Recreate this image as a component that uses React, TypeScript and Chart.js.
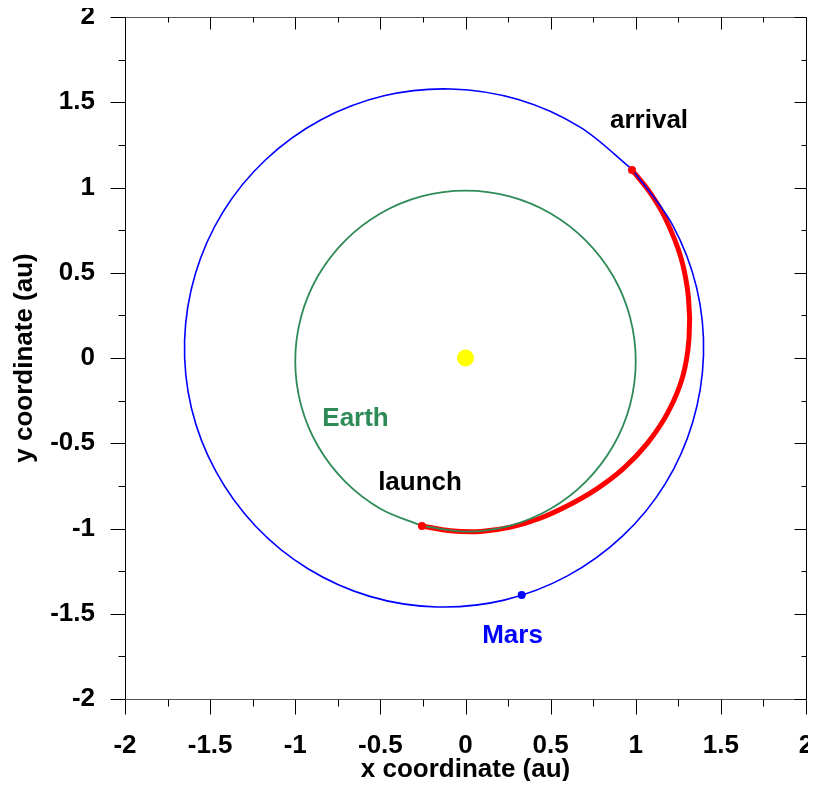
import React, { useEffect, useRef } from "react";
import { Chart, registerables } from "chart.js";

Chart.register(...registerables);

// ---- axis ticks ----
const majorTicks = [-2, -1.5, -1, -0.5, 0, 0.5, 1, 1.5, 2];
const minorTicks = [-1.75, -1.25, -0.75, -0.25, 0.25, 0.75, 1.25, 1.75];

// ---- Earth orbit (au), starting and ending at the launch point ----
const earthX = [-0.259, 0, 0.259, 0.5, 0.707, 0.866, 0.966, 1.0, 0.966, 0.866, 0.707, 0.5, 0.259, 0, -0.259, -0.5, -0.707, -0.866, -0.966, -1.0, -0.966, -0.866, -0.707, -0.5, -0.259];
const earthY = [-0.984, -1.018, -0.984, -0.884, -0.725, -0.518, -0.277, -0.018, 0.241, 0.482, 0.689, 0.848, 0.948, 0.982, 0.948, 0.848, 0.689, 0.482, 0.241, -0.018, -0.277, -0.518, -0.725, -0.884, -0.984];

// ---- Mars orbit (au), starting and ending at the arrival point ----
const marsX = [0.982, 0.673, 0.31, -0.083, -0.479, -0.851, -1.174, -1.425, -1.587, -1.65, -1.61, -1.467, -1.234, -0.925, -0.562, -0.169, 0.227, 0.599, 0.922, 1.173, 1.335, 1.398, 1.358, 1.215, 0.982];
const marsY = [1.103, 1.354, 1.516, 1.578, 1.538, 1.396, 1.163, 0.856, 0.493, 0.101, -0.293, -0.664, -0.985, -1.236, -1.398, -1.46, -1.42, -1.278, -1.045, -0.738, -0.375, 0.017, 0.411, 0.782, 1.103];

// ---- transfer trajectory (au) ----
const transferX = [-0.256, -0.089, 0.089, 0.266, 0.438, 0.605, 0.769, 0.927, 1.069, 1.189, 1.275, 1.313, 1.31, 1.265, 1.173, 1.081, 0.978];
const transferY = [-0.985, -1.013, -1.017, -0.992, -0.94, -0.864, -0.769, -0.649, -0.499, -0.319, -0.112, 0.115, 0.351, 0.59, 0.821, 0.974, 1.103];

// ---- single points ----
const sunPos = [0, 0];
const launchPos = [-0.256, -0.985];
const arrivalPos = [0.978, 1.103];
const marsPos = [0.33, -1.39];

// ---- annotations ----
const labelTexts = ["arrival", "launch", "Earth", "Mars"];
const labelX = [1.078, -0.267, -0.646, 0.276];
const labelY = [1.349, -0.774, -0.399, -1.672];

const COLORS = {
  earth: "#2e8b57",
  mars: "#0000ff",
  transfer: "#ff0000",
  sun: "#ffff00",
  text: "#000000",
};
const labelColors = [COLORS.text, COLORS.text, COLORS.earth, COLORS.mars];

const FONT_FAMILY = '"Liberation Sans", Arial, Helvetica, sans-serif';

const toPoints = (xs: number[], ys: number[]) => xs.map((x, i) => ({ x, y: ys[i] }));

const framePlugin = {
  id: "frame",
  afterDatasetsDraw(chart: any) {
    const { ctx, chartArea, scales } = chart;
    const { left, right, top, bottom } = chartArea;
    const xs = scales.x;
    const ys = scales.y;
    ctx.save();
    ctx.lineWidth = 1;
    ctx.strokeStyle = "#000";
    const L = Math.round(left) + 0.5;
    const R = Math.round(right) + 0.5;
    const T = Math.round(top) + 0.5;
    const B = Math.round(bottom) + 0.5;
    ctx.beginPath();
    ctx.moveTo(L, T);
    ctx.lineTo(L, B);
    ctx.moveTo(R, T);
    ctx.lineTo(R, B);
    ctx.stroke();
    ctx.strokeStyle = "#555";
    ctx.beginPath();
    ctx.moveTo(L, T);
    ctx.lineTo(R, T);
    ctx.moveTo(L, B);
    ctx.lineTo(R, B);
    ctx.stroke();

    ctx.strokeStyle = "#000";
    const drawTicks = (vals: number[], outLen: number, inLen: number) => {
      ctx.beginPath();
      vals.forEach((v) => {
        const px = Math.round(xs.getPixelForValue(v)) + 0.5;
        const py = Math.round(ys.getPixelForValue(v)) + 0.5;
        ctx.moveTo(px, B);
        ctx.lineTo(px, B + outLen);
        ctx.moveTo(px, T);
        ctx.lineTo(px, T + inLen);
        ctx.moveTo(L, py);
        ctx.lineTo(L - outLen, py);
        ctx.moveTo(R, py);
        ctx.lineTo(R - inLen, py);
      });
      ctx.stroke();
    };
    drawTicks(majorTicks, 15, 12);
    drawTicks(minorTicks, 7, 5);

    ctx.font = `bold 26px ${FONT_FAMILY}`;
    ctx.textAlign = "center";
    ctx.textBaseline = "alphabetic";
    labelTexts.forEach((t, i) => {
      ctx.fillStyle = labelColors[i];
      ctx.fillText(t, xs.getPixelForValue(labelX[i]), ys.getPixelForValue(labelY[i]));
    });
    ctx.restore();
  },
};

const noPadding = () => ({ left: 0, top: 0, right: 0, bottom: 0 });
const zeroPadding = (scale: any) => {
  scale.paddingLeft = 0;
  scale.paddingRight = 0;
  scale.paddingTop = 0;
  scale.paddingBottom = 0;
  scale.getPadding = noPadding;
};

export default function App() {
  const canvasRef = useRef<HTMLCanvasElement | null>(null);

  useEffect(() => {
    const canvas = canvasRef.current;
    if (!canvas) return;
    const tickFont = { family: FONT_FAMILY, size: 26, weight: "bold" as const };
    const titleFont = { family: FONT_FAMILY, size: 26, weight: "bold" as const };
    const chart = new Chart(canvas, {
      type: "scatter",
      data: {
        datasets: [
          {
            label: "Sun",
            data: [{ x: sunPos[0], y: sunPos[1] }],
            pointRadius: 8.5,
            backgroundColor: COLORS.sun,
            borderWidth: 0,
            showLine: false,
          },
          {
            label: "endpoints",
            data: [
              { x: launchPos[0], y: launchPos[1] },
              { x: arrivalPos[0], y: arrivalPos[1] },
            ],
            pointRadius: 4,
            backgroundColor: COLORS.transfer,
            borderWidth: 0,
            showLine: false,
          },
          {
            label: "Mars position",
            data: [{ x: marsPos[0], y: marsPos[1] }],
            pointRadius: 4,
            backgroundColor: COLORS.mars,
            borderWidth: 0,
            showLine: false,
          },
          {
            label: "Mars orbit",
            data: toPoints(marsX, marsY),
            showLine: true,
            pointRadius: 0,
            borderColor: COLORS.mars,
            borderWidth: 1.6,
            tension: 0.34,
            fill: false,
          },
          {
            label: "Earth orbit",
            data: toPoints(earthX, earthY),
            showLine: true,
            pointRadius: 0,
            borderColor: COLORS.earth,
            borderWidth: 1.8,
            tension: 0.34,
            fill: false,
          },
          {
            label: "Transfer",
            data: toPoints(transferX, transferY),
            showLine: true,
            pointRadius: 0,
            borderColor: COLORS.transfer,
            borderWidth: 5,
            tension: 0.35,
            fill: false,
          },
        ],
      },
      options: {
        animation: false,
        responsive: false,
        events: [],
        layout: { autoPadding: false, padding: { top: 17, right: 10, left: 0, bottom: 0 } },
        plugins: {
          legend: { display: false },
          tooltip: { enabled: false },
        },
        scales: {
          x: {
            type: "linear",
            min: -2,
            max: 2,
            afterBuildTicks: (scale: any) => {
              scale.ticks = majorTicks.map((v) => ({ value: v }));
            },
            afterFit: (scale: any) => {
              scale.height = 90;
              zeroPadding(scale);
            },
            grid: { display: false, drawTicks: false },
            border: { display: false },
            ticks: {
              font: tickFont,
              color: "#000",
              padding: 31,
              maxRotation: 0,
              autoSkip: false,
              callback: (v: any) => String(Number(v)),
            },
            title: {
              display: true,
              text: "x coordinate (au)",
              font: titleFont,
              color: "#000",
              padding: { top: 0, bottom: 3.5 },
            },
          },
          y: {
            type: "linear",
            min: -2,
            max: 2,
            afterBuildTicks: (scale: any) => {
              scale.ticks = majorTicks.map((v) => ({ value: v }));
            },
            afterFit: (scale: any) => {
              scale.width = 117;
              zeroPadding(scale);
            },
            grid: { display: false, drawTicks: false },
            border: { display: false },
            ticks: {
              font: tickFont,
              color: "#000",
              padding: 30,
              autoSkip: false,
              callback: (v: any) => String(Number(v)),
            },
            title: {
              display: true,
              text: "y coordinate (au)",
              font: titleFont,
              color: "#000",
              padding: { top: 1, bottom: 0 },
            },
          },
        },
      },
      plugins: [framePlugin],
    } as any);
    return () => chart.destroy();
  }, []);

  return (
    <div style={{ width: 808, height: 789, marginTop: -8, marginBottom: -8 }}>
      <canvas
        ref={canvasRef}
        width={808}
        height={789}
        style={{ display: "block", width: 808, height: 789 }}
      />
    </div>
  );
}
